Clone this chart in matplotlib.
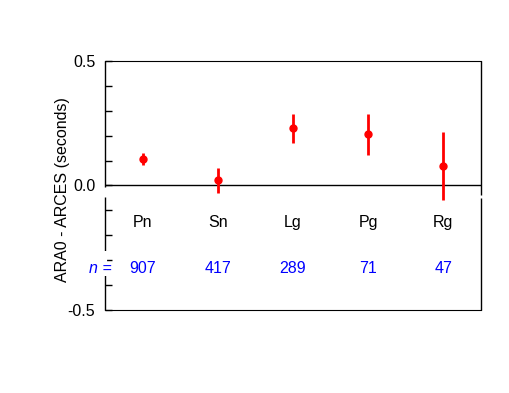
import matplotlib
matplotlib.use('Agg')
import matplotlib.pyplot as plt

phases = ["Pn", "Sn", "Lg", "Pg", "Rg"]
means = [0.107, 0.021, 0.229, 0.205, 0.078]
errs = [0.023, 0.050, 0.058, 0.083, 0.136]
counts = [907, 417, 289, 71, 47]

plt.rcParams['font.family'] = ['Liberation Sans', 'DejaVu Sans']

fig = plt.figure(figsize=(5.09, 3.93), dpi=100)
ax = fig.add_axes([0.2063, 0.2112, 0.7387, 0.6336])

xpos = [i + 0.5 for i in range(len(phases))]

ax.errorbar(xpos, means, yerr=errs, fmt='o', color='red', ms=5,
            elinewidth=2, capsize=0, zorder=3)
ax.axhline(0, color='black', lw=1)

for x, p, c in zip(xpos, phases, counts):
    ax.text(x, -0.15, p, ha='center', va='center', fontsize=11.5)
    ax.text(x, -0.335, str(c), ha='center', va='center', fontsize=11.5,
            color='blue')
ax.text(-0.055, -0.335, "n =", ha='center', va='center', fontsize=11.5,
        color='blue', style='italic')

ax.set_xlim(0, 5)
ax.set_ylim(-0.5, 0.5)
ax.set_xticks([])
ax.set_yticks([-0.5, -0.4, -0.3, -0.2, -0.1, 0, 0.1, 0.2, 0.3, 0.4, 0.5])
ax.set_yticklabels(["-0.5", "", "", "", "", "0.0", "", "", "", "", "0.5"],
                   fontsize=11.5)
ax.tick_params(axis='y', direction='in', length=5, width=1, pad=7)
ax.set_ylabel("ARA0 - ARCES (seconds)", fontsize=11.5)
ax.yaxis.set_label_coords(-0.093, 0.482)

# side spines drawn in pieces, with the gaps seen in the original
ax.spines['left'].set_visible(False)
ax.spines['right'].set_visible(False)
ax.vlines(0, -0.008, 0.5, color='black', lw=1, clip_on=False)
ax.vlines(0, -0.5, -0.048, color='black', lw=1, clip_on=False)
ax.vlines(5, -0.04, 0.5, color='black', lw=1, clip_on=False)
ax.vlines(5, -0.5, -0.052, color='black', lw=1, clip_on=False)
ax.vlines(0, -0.364, -0.264, color='white', lw=3, clip_on=False, zorder=2)

fig.savefig('out.png', dpi=100, facecolor='white')
